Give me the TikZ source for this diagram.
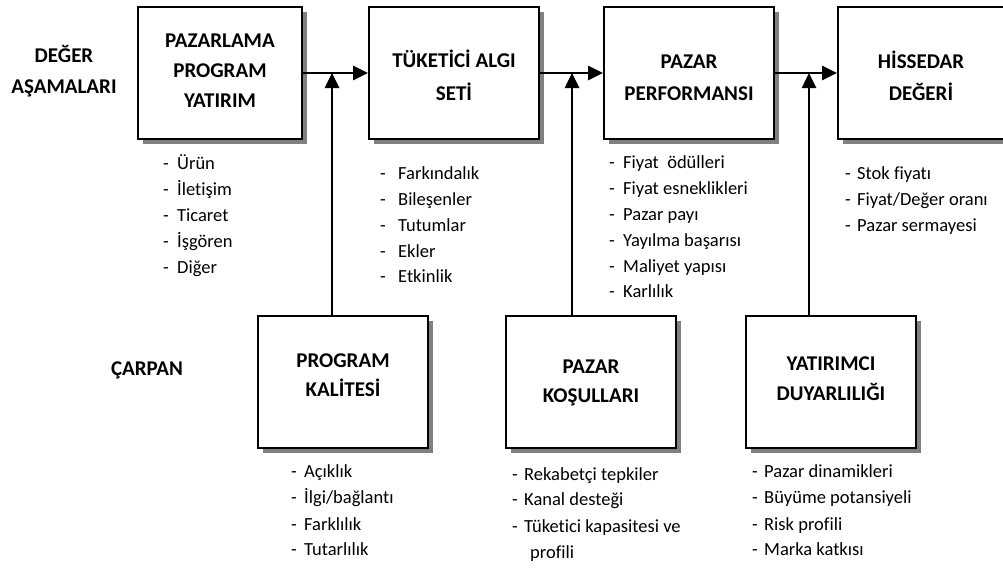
\documentclass[tikz,border=0pt]{standalone}
\usepackage{fontspec}
\setmainfont{Carlito}[Ligatures=NoCommon]
\usetikzlibrary{arrows.meta,shadows}

% list entry: a hyphen in a box of given width, then the text
\newcommand\dashitem[2]{\makebox[#1][l]{-}#2}

\begin{document}
\begin{tikzpicture}[x=1pt,y=-1pt,
  box/.style={draw,line width=2pt,fill=white,minimum height=132pt,minimum width=170pt,
    drop shadow={shadow xshift=5pt,shadow yshift=-5pt,fill=black!50,opacity=1}},
  head/.style={font=\fontsize{21}{25}\selectfont\bfseries,inner sep=0pt,anchor=base},
  li/.style={font=\fontsize{18.5}{22}\selectfont,inner sep=0pt,anchor=base west},
  arr/.style={line width=2.6pt,-{Triangle[length=15pt,width=14pt]}}]

\useasboundingbox (0,0) rectangle (1003,568);

% value stages
\node[box,minimum width=164pt] (b1) at (220,73) {};
\node[box] (b2) at (454,73) {};
\node[box] (b3) at (689,73) {};
\node[box] (b4) at (923,73) {};

% multipliers
\node[box] (p1) at (343,382) {};
\node[box] (p2) at (591,382) {};
\node[box] (p3) at (831,382) {};

% joints where the multipliers meet the main chain
\coordinate (m1) at (332,73);
\coordinate (m2) at (572,73);
\coordinate (m3) at (809,73);

\draw[arr] (b1.east) -- (b2.west);
\draw[arr] (b2.east) -- (b3.west);
\draw[arr] (b3.east) -- (b4.west);
\draw[arr] (p1.north -| m1) -- (m1);
\draw[arr] (p2.north -| m2) -- (m2);
\draw[arr] (p3.north -| m3) -- (m3);

% row titles
\node[head] (r1a) at (64,62) {DEĞER};
\node[head] (r1b) at (64,93) {AŞAMALARI};
\node[head] (r2) at (147,375) {ÇARPAN};

% box titles
\node[head] (t1a) at (220,47) {PAZARLAMA};
\node[head] (t1b) at (220,77) {PROGRAM};
\node[head] (t1c) at (220,107) {YATIRIM};
\node[head] (t2a) at (454,67) {TÜKETİCİ ALGI};
\node[head] (t2b) at (454,100) {SETİ};
\node[head] (t3a) at (689,68) {PAZAR};
\node[head] (t3b) at (689,100) {PERFORMANSI};
\node[head] (t4a) at (921,68) {HİSSEDAR};
\node[head] (t4b) at (921,100) {DEĞERİ};
\node[head] (u1a) at (343,367) {PROGRAM};
\node[head] (u1b) at (343,396) {KALİTESİ};
\node[head] (u2a) at (591,373) {PAZAR};
\node[head] (u2b) at (591,402) {KOŞULLARI};
\node[head] (u3a) at (831,370) {YATIRIMCI};
\node[head] (u3b) at (831,400) {DUYARLILIĞI};

% item lists
\node[li] (l1a) at (163,169) {\dashitem{14pt}{Ürün}};
\node[li] (l1b) at (163,195) {\dashitem{14pt}{İletişim}};
\node[li] (l1c) at (163,221) {\dashitem{14pt}{Ticaret}};
\node[li] (l1d) at (163,247) {\dashitem{14pt}{İşgören}};
\node[li] (l1e) at (163,273) {\dashitem{14pt}{Diğer}};

\node[li] (l2a) at (380,179) {\dashitem{18pt}{Farkındalık}};
\node[li] (l2b) at (380,205) {\dashitem{18pt}{Bileşenler}};
\node[li] (l2c) at (380,231) {\dashitem{18pt}{Tutumlar}};
\node[li] (l2d) at (380,257) {\dashitem{18pt}{Ekler}};
\node[li] (l2e) at (380,282) {\dashitem{18pt}{Etkinlik}};

\node[li] (l3a) at (609,168) {\dashitem{14pt}{Fiyat\ \ ödülleri}};
\node[li] (l3b) at (609,194) {\dashitem{14pt}{Fiyat esneklikleri}};
\node[li] (l3c) at (609,220) {\dashitem{14pt}{Pazar payı}};
\node[li] (l3d) at (609,246) {\dashitem{14pt}{Yayılma başarısı}};
\node[li] (l3e) at (609,272) {\dashitem{14pt}{Maliyet yapısı}};
\node[li] (l3f) at (609,297) {\dashitem{14pt}{Karlılık}};

\node[li] (l4a) at (845,179) {\dashitem{12pt}{Stok fiyatı}};
\node[li] (l4b) at (845,205) {\dashitem{12pt}{Fiyat/Değer oranı}};
\node[li] (l4c) at (845,231) {\dashitem{12pt}{Pazar sermayesi}};

\node[li] (l5a) at (291,477) {\dashitem{13pt}{Açıklık}};
\node[li] (l5b) at (291,503) {\dashitem{13pt}{İlgi/bağlantı}};
\node[li] (l5c) at (291,530) {\dashitem{13pt}{Farklılık}};
\node[li] (l5d) at (291,555) {\dashitem{13pt}{Tutarlılık}};

\node[li] (l6a) at (512,480) {\dashitem{12pt}{Rekabetçi tepkiler}};
\node[li] (l6b) at (512,505) {\dashitem{12pt}{Kanal desteği}};
\node[li] (l6c) at (512,532) {\dashitem{12pt}{Tüketici kapasitesi ve}};
\node[li] (l6d) at (530,558) {profili};

\node[li] (l7a) at (752,477) {\dashitem{12pt}{Pazar dinamikleri}};
\node[li] (l7b) at (752,503) {\dashitem{12pt}{Büyüme potansiyeli}};
\node[li] (l7c) at (752,530) {\dashitem{12pt}{Risk profili}};
\node[li] (l7d) at (752,555) {\dashitem{12pt}{Marka katkısı}};

\end{tikzpicture}
\end{document}
